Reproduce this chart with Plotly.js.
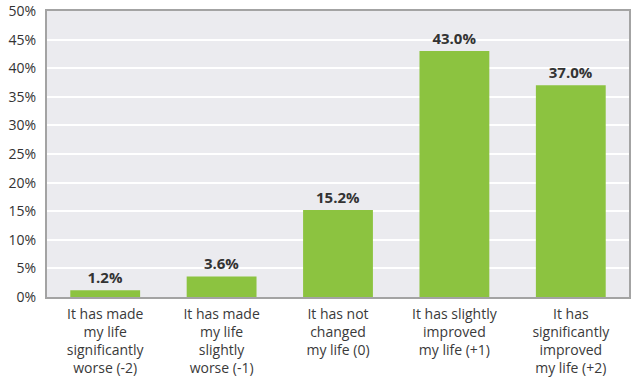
<!DOCTYPE html>
<html><head><meta charset="utf-8">
<script src="https://cdn.plot.ly/plotly-3.0.1.min.js"></script>
<style>html,body{margin:0;padding:0;background:#fff}#c{width:637px;height:380px}</style>
</head><body><div id="c"></div>
<script>
const categories = [
  "It has made<br>my life<br>significantly<br>worse (-2)",
  "It has made<br>my life<br>slightly<br>worse (-1)",
  "It has not<br>changed<br>my life (0)",
  "It has slightly<br>improved<br>my life (+1)",
  "It has<br>significantly<br>improved<br>my life (+2)"
];
const values = [1.2, 3.6, 15.2, 43.0, 37.0];
const tickVals = [0, 5, 10, 15, 20, 25, 30, 35, 40, 45, 50];
const tickText = ["0%", "5%", "10%", "15%", "20%", "25%", "30%", "35%", "40%", "45%", "50%"];

const trace = {
  type: 'bar',
  x: categories,
  y: values,
  text: values.map(v => '<b>' + v.toFixed(1) + '%</b>'),
  textposition: 'outside',
  cliponaxis: false,
  textfont: {family: '"Open Sans", sans-serif', size: 15, color: '#333333'},
  marker: {color: '#8cc340'},
  width: 0.6,
  hoverinfo: 'none'
};
const layout = {
  width: 637, height: 380,
  margin: {l: 47, r: 8, t: 11, b: 83},
  paper_bgcolor: '#ffffff',
  plot_bgcolor: '#ebebef',
  showlegend: false,
  font: {family: '"Open Sans", sans-serif', color: '#333333'},
  xaxis: {
    showline: true, mirror: true, linecolor: '#a3a3a3', linewidth: 2,
    tickfont: {size: 14, color: '#3a3a3a'},
    ticklabelstandoff: 3,
    ticks: '', showgrid: false, fixedrange: true
  },
  yaxis: {
    range: [0, 50], tickvals: tickVals, ticktext: tickText,
    showline: true, mirror: true, linecolor: '#a3a3a3', linewidth: 2,
    gridcolor: '#ffffff', gridwidth: 2, zeroline: false,
    tickfont: {size: 14, color: '#333333'},
    ticklabeloverflow: 'allow',
    ticks: '', ticklabelstandoff: 6, fixedrange: true
  }
};
Plotly.newPlot('c', [trace], layout, {staticPlot: true});
</script></body></html>
